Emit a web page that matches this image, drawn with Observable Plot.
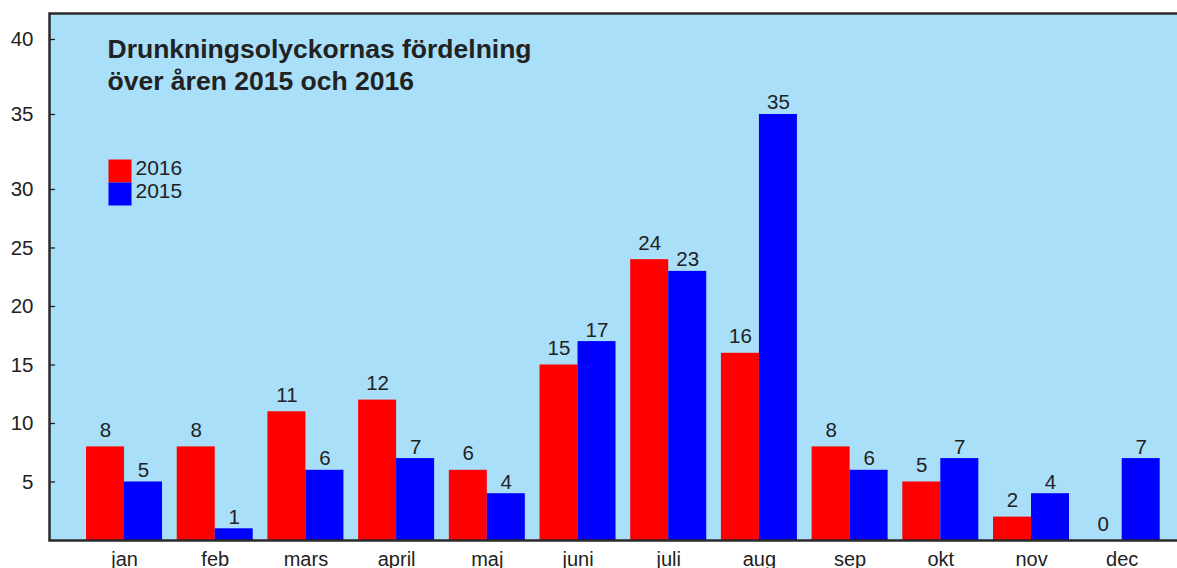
<!DOCTYPE html>
<html><head><meta charset="utf-8">
<script src="https://cdn.jsdelivr.net/npm/d3@7"></script>
<script src="https://cdn.jsdelivr.net/npm/@observablehq/plot@0.6"></script>
<style>
body{margin:0;background:#fff;}
#chart svg{display:block;}
</style></head><body><div id="chart"></div>
<script>
const months = ["jan","feb","mars","april","maj","juni","juli","aug","sep","okt","nov","dec"];
const values2016 = [8,8,11,12,6,15,24,16,8,5,2,0];
const values2015 = [5,1,6,7,4,17,23,35,6,7,4,7];
const yTicks = [5,10,15,20,25,30,35,40];
const series = ["2016","2015"];
const seriesColors = ["#ff0000","#0000ff"];
const titleLines = ["Drunkningsolyckornas fördelning","över åren 2015 och 2016"];

const data16 = months.map((m,i)=>({month:m, year:"2016", value: values2016[i]}));
const data15 = months.map((m,i)=>({month:m, year:"2015", value: values2015[i]}));
const textColor = "#222";

// the original axis is stretched above 30
const breakAt = 30, stretch = 15 / 11.7;
const fwd = v => v <= breakAt ? v : breakAt + (v - breakAt) * stretch;
const inv = t => t <= breakAt ? t : breakAt + (t - breakAt) / stretch;
const yTickFormat = t => String(Math.round(inv(t)));

const hasAxisMarks = typeof Plot.axisY === "function";
const axisMarks = hasAxisMarks ? [
  Plot.axisY({ticks: yTicks.map(fwd), tickFormat: yTickFormat, tickSize: -6, tickPadding: 22, strokeWidth: 1.3, fontSize: 20.5, label: null}),
  Plot.axisX({tickSize: 0, tickPadding: 11, fontSize: 20, label: null})
] : [];

const chart = Plot.plot({
  width: 1177,
  height: 568,
  marginTop: 13,
  marginBottom: 28,
  marginLeft: 49,
  marginRight: -3,
  style: {fontFamily: "'Liberation Sans', Arial, sans-serif", color: textColor, background: "#fff", overflow: "visible", fontSize: "20px"},
  x: {domain: months, paddingInner: 0.162, paddingOuter: 0.316, align: 0.646, round: false, tickSize: 0, tickPadding: 11, label: null},
  y: {transform: fwd, domain: [0, 45.04], ticks: yTicks.map(fwd), tickFormat: yTickFormat, tickSize: -6, tickPadding: 22, label: null},
  color: {domain: series, range: seriesColors},
  marks: [
    Plot.frame({fill: "#a9dff9"}),
    Plot.barY(data16, {x: "month", y: "value", fill: "year", insetRight: 38, insetLeft: 0}),
    Plot.barY(data15, {x: "month", y: "value", fill: "year", insetLeft: 38, insetRight: 0}),
    Plot.text(data16, {x: "month", y: "value", text: d => String(d.value), dx: -19, dy: -10, lineAnchor: "bottom", fontSize: 20.5, fill: textColor}),
    Plot.text(data15, {x: "month", y: "value", text: d => String(d.value), dx: 19, dy: -5, lineAnchor: "bottom", fontSize: 20.5, fill: textColor}),
    Plot.text([titleLines.join("\n")], {frameAnchor: "top-left", dx: 58, dy: 21, lineAnchor: "top", textAnchor: "start", fontSize: 26.5, fontWeight: "bold", lineHeight: 1.23, fill: textColor}),
    ...series.map((s, i) => Plot.dot([s], {frameAnchor: "top-left", dx: 70.5, dy: 157.5 + i * 23, symbol: "square", r: 12.98, fill: d => d})),
    ...series.map((s, i) => Plot.text([s], {frameAnchor: "top-left", dx: 86, dy: 155 + i * 23, lineAnchor: "middle", textAnchor: "start", fontSize: 21, fill: textColor})),
    ...axisMarks,
    Plot.frame({stroke: "#2a2a2a", strokeWidth: 2.5})
  ]
});
document.getElementById("chart").appendChild(chart);
</script>
</body></html>
